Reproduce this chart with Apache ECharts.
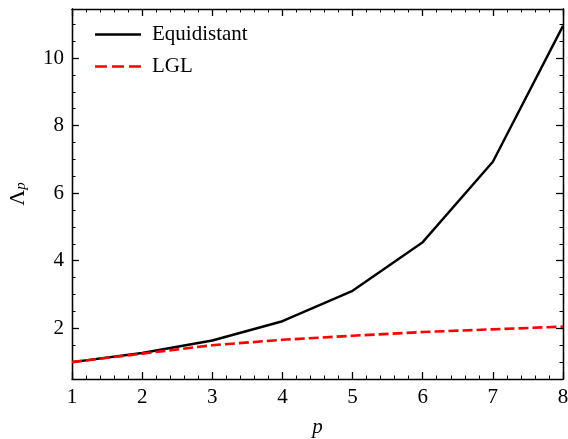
<!DOCTYPE html>
<html><head><meta charset="utf-8">
<script src="https://cdn.jsdelivr.net/npm/echarts@6/dist/echarts.min.js"></script>
<style>html,body{margin:0;padding:0;background:#fff}#c{width:568px;height:439px}</style>
</head><body><div id="c"></div>
<script>
const pValues = [1, 2, 3, 4, 5, 6, 7, 8];
const equidistant = [1.00, 1.27, 1.64, 2.21, 3.11, 4.55, 6.93, 10.95];
const lgl = [1.00, 1.25, 1.50, 1.66, 1.78, 1.89, 1.97, 2.05];
const yMajorTicks = [2, 4, 6, 8, 10];
const yMinorTicks = [1, 1.5, 2.5, 3, 3.5, 4.5, 5, 5.5, 6.5, 7, 7.5, 8.5, 9, 9.5, 10.5, 11];
const xMin = 1, xMax = 8, yMin = 0.5, yMax = 11.45;

const font = 'Liberation Serif';
const axisLine = {show: true, lineStyle: {color: '#000', width: 1.3}};
function xAxisDef(pos, labels) {
  return {
    type: 'value', position: pos, min: xMin, max: xMax, interval: 1,
    axisLine, splitLine: {show: false},
    axisTick: {show: true, inside: true, length: 7, lineStyle: {color: '#000', width: 1.3}},
    minorTick: {show: true, splitNumber: 5, length: 3.5, lineStyle: {color: '#000', width: 1}},
    axisLabel: {show: labels, color: '#000', fontFamily: font, fontSize: 21, margin: 8},
    name: labels ? 'p' : '', nameLocation: 'middle', nameGap: 38,
    nameTextStyle: {color: '#000', fontFamily: font, fontSize: 21, fontStyle: 'italic'}
  };
}
function yAxisDef(pos, values, len, labels) {
  return {
    type: 'value', position: pos, min: yMin, max: yMax,
    axisLine, splitLine: {show: false},
    axisTick: {show: true, inside: true, length: len, customValues: values, lineStyle: {color: '#000', width: len > 5 ? 1.3 : 1}},
    axisLabel: {show: labels, customValues: values, color: '#000', fontFamily: font, fontSize: 21, margin: 8},
    name: labels ? '{a|Λ}{b|p}' : '', nameLocation: 'middle', nameGap: 43, nameRotate: 90,
    nameTextStyle: {color: '#000', rich: {
      a: {fontFamily: font, fontSize: 22, color: '#000', verticalAlign: 'bottom', lineHeight: 26},
      b: {fontFamily: font, fontSize: 15, fontStyle: 'italic', color: '#000', verticalAlign: 'bottom', lineHeight: 15}
    }}
  };
}
const solidIcon = 'path://M0,0H46V2.4H0Z';
const dashedIcon = 'path://M0,0H12V2.6H0Z M17,0H29V2.6H17Z M34,0H46V2.6H34Z';
const chart = echarts.init(document.getElementById('c'));
chart.setOption({
  animation: false,
  grid: {left: 72, right: 5, top: 9, bottom: 60, containLabel: false, outerBoundsMode: 'none'},
  xAxis: [xAxisDef('bottom', true), xAxisDef('top', false)],
  yAxis: [
    yAxisDef('left', yMajorTicks, 7, true),
    yAxisDef('left', yMinorTicks, 3.5, false),
    yAxisDef('right', yMajorTicks, 7, false),
    yAxisDef('right', yMinorTicks, 3.5, false)
  ],
  legend: {
    orient: 'vertical', left: 90, top: 19, itemWidth: 46, itemHeight: 2.6, itemGap: 11,
    textStyle: {fontFamily: font, fontSize: 21, color: '#000', padding: [0, 0, 0, 6]},
    data: [
      {name: 'Equidistant', icon: solidIcon, itemStyle: {color: '#000'}},
      {name: 'LGL', icon: dashedIcon, itemStyle: {color: '#ff0000'}}
    ]
  },
  series: [
    {name: 'Equidistant', type: 'line', symbol: 'none', showSymbol: false, xAxisIndex: 0, yAxisIndex: 0,
     data: pValues.map((p, i) => [p, equidistant[i]]),
     lineStyle: {color: '#000', width: 2.4}, itemStyle: {color: '#000'}},
    {name: 'LGL', type: 'line', symbol: 'none', showSymbol: false, xAxisIndex: 0, yAxisIndex: 0,
     data: pValues.map((p, i) => [p, lgl[i]]),
     lineStyle: {color: '#ff0000', width: 2.6, type: [10, 4]}, itemStyle: {color: '#ff0000'}}
  ]
});
</script></body></html>
